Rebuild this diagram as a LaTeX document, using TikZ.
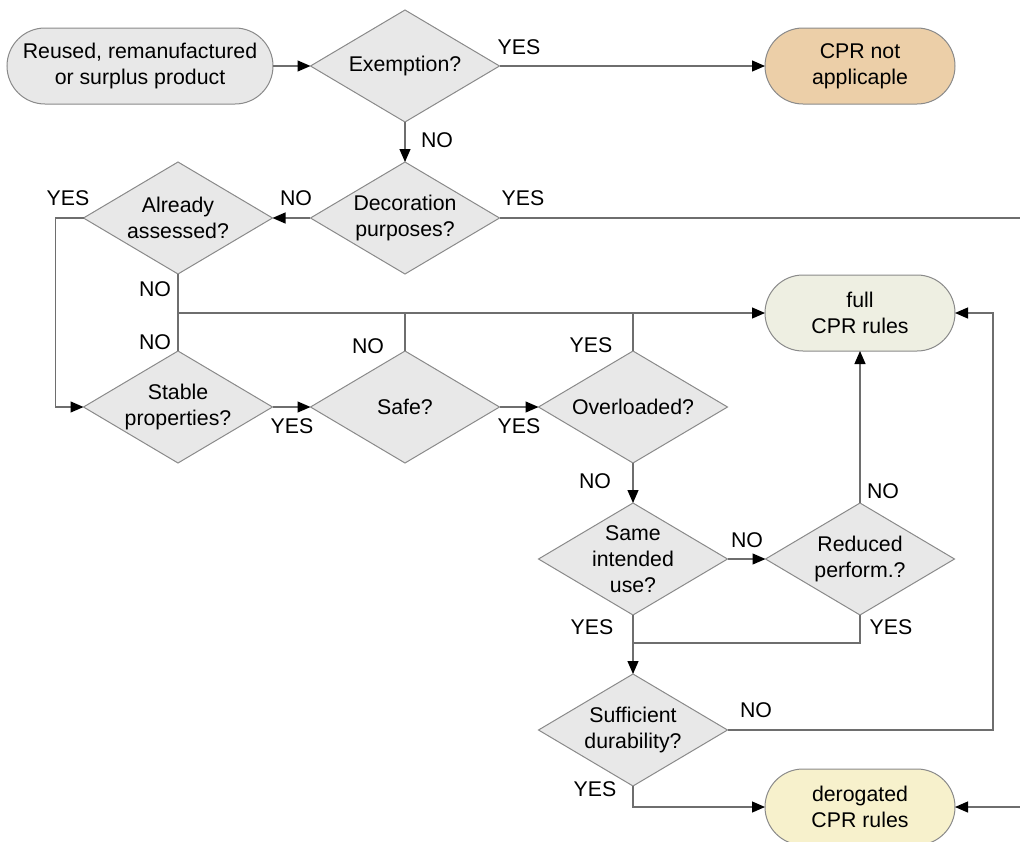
\documentclass[tikz,border=0pt]{standalone}
\usepackage{fontspec}
\setmainfont{Liberation Sans}
\usetikzlibrary{shapes.geometric,arrows.meta}

\definecolor{boxgray}{HTML}{E8E8E8}
\definecolor{edgegray}{HTML}{8A8A8A}
\definecolor{linegray}{HTML}{6E6E6E}
\definecolor{notappl}{HTML}{ECCFA8}
\definecolor{fullcpr}{HTML}{EEEFE2}
\definecolor{derog}{HTML}{F7F1CC}

\tikzset{
  x=1pt, y=-1pt,
  every node/.style={font=\fontsize{21.3}{26}\selectfont, text=black},
  dec/.style={shape=diamond, draw=edgegray, fill=boxgray, line width=1pt,
    minimum width=189pt, minimum height=112pt, inner sep=0pt, outer sep=0pt},
  dtext/.style={align=center, inner sep=0pt},
  term/.style={rectangle, rounded corners=38pt, draw=edgegray, line width=1pt,
    minimum height=76pt, align=center, inner sep=0pt, outer sep=0pt},
  lab/.style={inner sep=0pt},
  flow/.style={draw=linegray, line width=1.2pt},
  arr/.style={flow, -{Triangle[length=13pt,width=11pt,color=black,fill=black]}}
}

\begin{document}
\begin{tikzpicture}
\useasboundingbox (0,0) rectangle (1020,841);

% terminal boxes
\node[term, fill=boxgray, minimum width=266pt] (start) at (140,66)
  {Reused, remanufactured\\or surplus product};
\node[term, fill=notappl, minimum width=190pt] (na) at (860,66) {CPR not\\applicaple};
\node[term, fill=fullcpr, minimum width=190pt] (full) at (860,313) {full\\CPR rules};
\node[term, fill=derog, minimum width=190pt] (der) at (860,807) {derogated\\CPR rules};

% decisions
\node[dec, label={[dtext]center:Exemption?}] (ex) at (405,66) {};
\node[dec, label={[dtext]center:Decoration\\purposes?}] (deco) at (405,218) {};
\node[dec, label={[dtext]center:Already\\assessed?}] (aa) at (178,218) {};
\node[dec, label={[dtext]center:Stable\\properties?}] (st) at (178,407) {};
\node[dec, label={[dtext]center:Safe?}] (safe) at (405,407) {};
\node[dec, label={[dtext]center:Overloaded?}] (ov) at (633,407) {};
\node[dec, label={[dtext]center:Same\\intended\\use?}] (same) at (633,559) {};
\node[dec, label={[dtext]center:Reduced\\perform.?}] (red) at (860,559) {};
\node[dec, label={[dtext]center:Sufficient\\durability?}] (suf) at (633,730) {};

% junction points
\coordinate (j1) at (178,313);
\coordinate (j2) at (633,643);
\coordinate (rr) at (993,313);
\coordinate (fr) at (1030,218);

% connectors
\draw[arr] (start) -- (ex);
\draw[arr] (ex) -- (na);
\draw[arr] (ex) -- (deco);
\draw[arr] (deco) -- (aa);
\draw[arr] (deco.east) -- (fr) |- (der.east);
\draw[arr] (aa.west) -- ++(-28,0) |- (st.west);
\draw[flow] (aa.south) -- (st.north);
\draw[arr] (j1) -- (full.west);
\draw[flow] (safe.north) -- (safe.north |- j1);
\draw[flow] (ov.north) -- (ov.north |- j1);
\draw[arr] (st) -- (safe);
\draw[arr] (safe) -- (ov);
\draw[arr] (ov) -- (same);
\draw[arr] (same) -- (red);
\draw[arr] (red) -- (full);
\draw[flow] (red.south) |- (j2);
\draw[arr] (same) -- (suf);
\draw[arr] (suf.east) -| (rr) -- (full.east);
\draw[arr] (suf.south) |- (der.west);

% branch labels
\node[lab] (y1) at (519,47) {YES};
\node[lab] (n1) at (437,140) {NO};
\node[lab] (n2) at (296,198) {NO};
\node[lab] (y2) at (523,198) {YES};
\node[lab] (y3) at (68,198) {YES};
\node[lab] (n3) at (155,289) {NO};
\node[lab] (n4) at (155,342) {NO};
\node[lab] (n5) at (368,346) {NO};
\node[lab] (y4) at (591,345) {YES};
\node[lab] (y5) at (292,426) {YES};
\node[lab] (y6) at (519,426) {YES};
\node[lab] (n6) at (595,481) {NO};
\node[lab] (n7) at (747,540) {NO};
\node[lab] (n8) at (883,491) {NO};
\node[lab] (y7) at (592,627) {YES};
\node[lab] (y8) at (891,627) {YES};
\node[lab] (n9) at (756,710) {NO};
\node[lab] (y9) at (595,789) {YES};
\end{tikzpicture}
\end{document}
